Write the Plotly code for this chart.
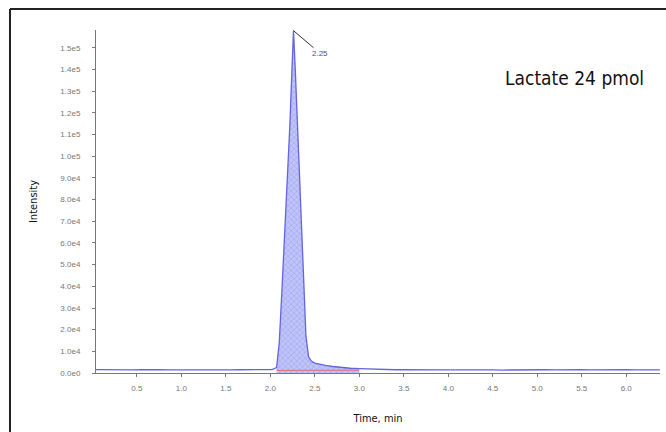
import plotly.graph_objects as go

# Chromatogram (time in min, intensity in counts)
time = [0.04, 0.15, 0.25, 0.35, 0.45, 0.55, 0.65, 0.75, 0.85, 0.95, 1.05, 1.15, 1.25, 1.35,
        1.45, 1.55, 1.65, 1.75, 1.85, 1.95, 2.02, 2.07, 2.10, 2.13, 2.16, 2.19, 2.22, 2.24,
        2.26, 2.28, 2.31, 2.34, 2.37, 2.40, 2.43, 2.46, 2.50, 2.55, 2.62, 2.70, 2.80, 2.90,
        3.00, 3.10, 3.20, 3.30, 3.40, 3.50, 3.60, 3.70, 3.80, 3.90, 4.00, 4.10, 4.20, 4.30,
        4.40, 4.50, 4.60, 4.70, 4.80, 4.90, 5.00, 5.10, 5.20, 5.30, 5.40, 5.50, 5.60, 5.70,
        5.80, 5.90, 6.00, 6.10, 6.20, 6.30, 6.38]
intensity = [1600, 1500, 1400, 1550, 1450, 1500, 1350, 1500, 1450, 1400, 1500, 1450, 1400, 1500,
             1450, 1400, 1500, 1450, 1400, 1500, 1550, 2500, 14000, 38000, 63000, 88000, 115000, 137000,
             158000, 140000, 108000, 75000, 42000, 17000, 7500, 5500, 4600, 4000, 3500, 3000, 2500, 2200,
             2000, 1800, 1700, 1600, 1500, 1500, 1400, 1450, 1500, 1400, 1450, 1500, 1400, 1450,
             1500, 1400, 1350, 1450, 1500, 1400, 1450, 1500, 1400, 1500, 1450, 1600, 1400, 1500,
             1450, 1400, 1500, 1450, 1500, 1400, 1450]

# Integration baseline
base_time = [2.07, 3.00]
base_int = [1200, 1300]

x_ticks = [0.5, 1.0, 1.5, 2.0, 2.5, 3.0, 3.5, 4.0, 4.5, 5.0, 5.5, 6.0]
x_labels = ["0.5", "1.0", "1.5", "2.0", "2.5", "3.0", "3.5", "4.0", "4.5", "5.0", "5.5", "6.0"]
y_ticks = [0, 1e4, 2e4, 3e4, 4e4, 5e4, 6e4, 7e4, 8e4, 9e4, 1e5, 1.1e5, 1.2e5, 1.3e5, 1.4e5, 1.5e5]
y_labels = ["0.0e0", "1.0e4", "2.0e4", "3.0e4", "4.0e4", "5.0e4", "6.0e4", "7.0e4", "8.0e4",
            "9.0e4", "1.0e5", "1.1e5", "1.2e5", "1.3e5", "1.4e5", "1.5e5"]

peak_label = "2.25"
peak_time = 2.26
peak_int = 158000
title_text = "Lactate 24 pmol"

# Peak region subset for filling
peak_t = [t for t in time if 2.07 <= t <= 3.0]
peak_i = [v for t, v in zip(time, intensity) if 2.07 <= t <= 3.0]

fig = go.Figure()
fig.add_trace(go.Scatter(
    x=peak_t, y=peak_i, mode="lines", line=dict(color="rgba(0,0,0,0)", width=0),
    fill="tozeroy", fillcolor="rgba(150,158,242,0.7)",
    fillpattern=dict(shape="x", fgcolor="rgba(100,110,225,0.85)", bgcolor="rgba(165,172,246,0.7)",
                     size=4, solidity=0.25),
    hoverinfo="skip", showlegend=False))
fig.add_trace(go.Scatter(
    x=time, y=intensity, mode="lines", line=dict(color="#6464e0", width=1.3),
    showlegend=False))
fig.add_trace(go.Scatter(
    x=base_time, y=base_int, mode="lines", line=dict(color="#e07070", width=1),
    showlegend=False))

fig.add_annotation(x=peak_time, y=peak_int, text=peak_label, showarrow=True, arrowhead=0,
                   arrowwidth=1, arrowcolor="#333", ax=27, ay=23,
                   font=dict(size=8, color="#555", family="Liberation Sans"))
fig.add_annotation(xref="paper", yref="paper", x=0.975, y=0.86, xanchor="right", yanchor="middle",
                   text=title_text, showarrow=False,
                   font=dict(size=19, color="#111", family="DejaVu Sans Condensed, Liberation Sans Narrow, Liberation Sans"))

# Outer frame (left and top)
fig.add_shape(type="line", xref="paper", yref="paper", x0=-0.1525, x1=1.02, y0=1.0612, y1=1.0612,
              line=dict(color="#222", width=2))
fig.add_shape(type="line", xref="paper", yref="paper", x0=-0.1525, x1=-0.1525, y0=-0.2, y1=1.0612,
              line=dict(color="#222", width=2))

fig.update_layout(
    width=666, height=432,
    margin=dict(l=96, r=6, t=30, b=59),
    paper_bgcolor="white", plot_bgcolor="white",
    font=dict(family="Liberation Sans", size=8, color="#777"),
    xaxis=dict(range=[0.04, 6.38], tickvals=x_ticks, ticktext=x_labels, showgrid=False,
               zeroline=False, showline=True, linecolor="#777", linewidth=1,
               ticks="outside", ticklen=3, tickcolor="#777", ticklabelstandoff=4,
               title=dict(text="Time, min", font=dict(size=11, color="#111",
                          family="DejaVu Sans Condensed, Liberation Sans"), standoff=22)),
    yaxis=dict(range=[0, 158300], tickvals=y_ticks, ticktext=y_labels, showgrid=False,
               zeroline=False, showline=True, linecolor="#777", linewidth=1,
               ticks="outside", ticklen=3, tickcolor="#777", ticklabelstandoff=10,
               title=dict(text="Intensity", font=dict(size=11, color="#111",
                          family="DejaVu Sans Condensed, Liberation Sans"), standoff=20)),
)

fig.write_html("out.html")
